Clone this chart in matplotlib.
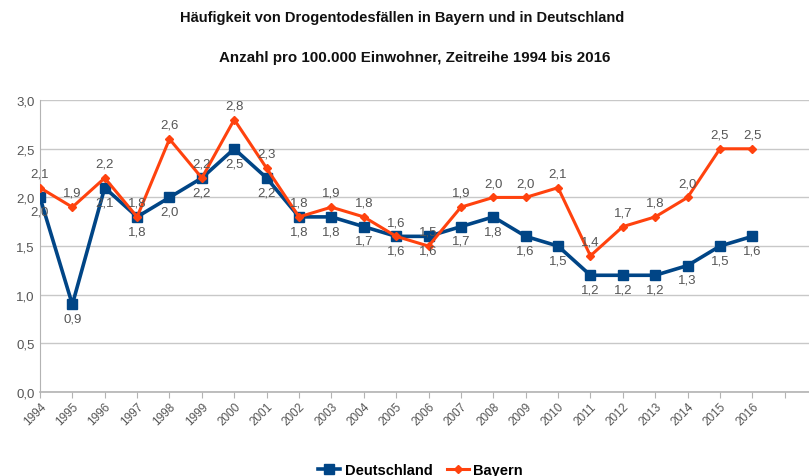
import matplotlib
matplotlib.use("Agg")
import matplotlib.pyplot as plt
from matplotlib.lines import Line2D

years = list(range(1994, 2017))
deutschland = [2.0, 0.9, 2.1, 1.8, 2.0, 2.2, 2.5, 2.2, 1.8, 1.8, 1.7, 1.6, 1.6,
               1.7, 1.8, 1.6, 1.5, 1.2, 1.2, 1.2, 1.3, 1.5, 1.6]
bayern = [2.1, 1.9, 2.2, 1.8, 2.6, 2.2, 2.8, 2.3, 1.8, 1.9, 1.8, 1.6, 1.5,
          1.9, 2.0, 2.0, 2.1, 1.4, 1.7, 1.8, 2.0, 2.5, 2.5]
yticks = [0.0, 0.5, 1.0, 1.5, 2.0, 2.5, 3.0]

title = "Häufigkeit von Drogentodesfällen in Bayern und in Deutschland"
subtitle = "Anzahl pro 100.000 Einwohner, Zeitreihe 1994 bis 2016"

c_de = "#004586"
c_by = "#ff420e"
gray = "#555555"

plt.rcParams['font.family'] = ['Liberation Sans', 'DejaVu Sans']

fig = plt.figure(figsize=(8.09, 4.77), dpi=100)
ax = fig.add_axes([0.0494, 0.176, 0.9506, 0.612])

ax.plot(years, deutschland, color=c_de, lw=2.6, marker='s', ms=7, zorder=3)
ax.plot(years, bayern, color=c_by, lw=2.2, marker='D', ms=4.5, zorder=4)

for x, y in zip(years, bayern):
    ax.annotate(f"{y:.1f}".replace('.', ','), (x, y), xytext=(0, 6),
                textcoords='offset points', ha='center', va='bottom',
                fontsize=9.5, color=gray, zorder=5)
for x, y in zip(years, deutschland):
    ax.annotate(f"{y:.1f}".replace('.', ','), (x, y), xytext=(0, -6),
                textcoords='offset points', ha='center', va='top',
                fontsize=9.5, color=gray, zorder=5)

ax.set_ylim(0, 3.0)
ax.set_xlim(1994, 2017.75)
ax.set_yticks(yticks)
ax.set_yticklabels([f"{v:.1f}".replace('.', ',') for v in yticks],
                   fontsize=9.5, color=gray)
ax.set_xticks(list(range(1994, 2018)))
ax.set_xticklabels([str(y) for y in years] + [""], rotation=45, ha='right',
                   rotation_mode='anchor', fontsize=8.5, color=gray)
ax.grid(axis='y', color='#c8c8c8', lw=1)
ax.set_axisbelow(True)
for s in ['top', 'right']:
    ax.spines[s].set_visible(False)
ax.spines['left'].set_color('#b3b3b3')
ax.spines['bottom'].set_color('#b3b3b3')
ax.spines['bottom'].set_linewidth(1.2)
ax.tick_params(axis='y', length=0, pad=4)
ax.tick_params(axis='x', length=4, color='#b3b3b3', pad=2)

fig.text(0.497, 0.962, title, ha='center', va='center', fontsize=10.5,
         fontweight='bold', color='#111111')
fig.text(0.512, 0.878, subtitle, ha='center', va='center', fontsize=10.9,
         fontweight='bold', color='#111111')

handles = [Line2D([], [], color=c_de, lw=2.6, marker='s', ms=7),
           Line2D([], [], color=c_by, lw=2.2, marker='D', ms=4.5)]
fig.legend(handles, ["Deutschland", "Bayern"], loc='lower center',
           bbox_to_anchor=(0.52, -0.03), ncol=2, frameon=False,
           prop={'weight': 'bold', 'size': 10.5}, handlelength=1.5,
           handletextpad=0.3, columnspacing=1.0)

fig.savefig("out.png", dpi=100)
